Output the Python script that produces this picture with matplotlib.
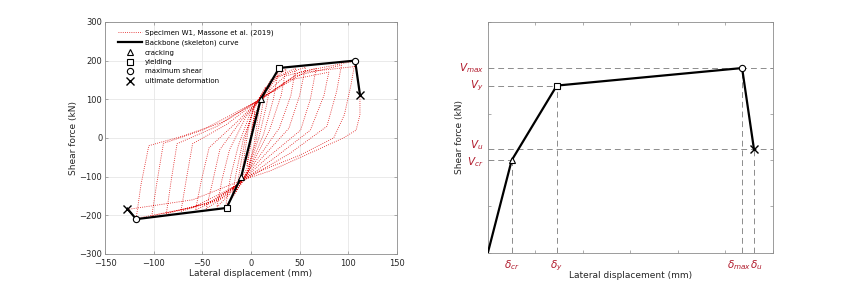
import matplotlib
matplotlib.use('Agg')
import matplotlib.pyplot as plt
import matplotlib.transforms as mtrans
from matplotlib.lines import Line2D

plt.rcParams['font.family'] = ['DejaVu Sans']
plt.rcParams['mathtext.fontset'] = 'dejavusans'

# hysteresis loops of specimen W1
hyst_disp = [0, 4, 2, -1, -4, -2, 1,
             10, 7, 3, -2, -10, -7, -3, 2,
             15, 11, 5, -3, -15, -11, -5, 3,
             21, 16, 8, -4, -20, -15, -8, 5,
             28, 23, 13, -5, -26, -21, -13, 0, 8,
             22, 36, 31, 19, 0, -8, -22, -35, -30, -22, -5, 8,
             25, 46, 41, 29, 5, -8, -26, -46, -40, -32, -10, 8,
             28, 56, 50, 39, 10, -8, -30, -57, -51, -43, -15, 9,
             35, 67, 61, 51, 15, -8, -35, -72, -66, -60, -25, 9,
             40, 80, 75, 61, 25, -8, -40, -87, -82, -76, -35, 9,
             45, 93, 88, 78, 40, -6, -45, -102, -97, -90, -50, 10,
             50, 107, 103, 96, 85, 50, 0, -20, -60, -118, -113, -105, -70, -30, 10,
             55, 108, 112, 112, 108, 95, 60, 20, -10, -60, -127]
hyst_force = [0, 70, 25, -30, -72, -25, 30,
              105, 50, -20, -70, -105, -50, 20, 70,
              132, 70, -10, -82, -136, -75, 10, 82,
              152, 85, 0, -92, -158, -88, -5, 90,
              172, 100, 10, -100, -177, -100, -20, 70, 96,
              150, 178, 110, 20, -75, -105, -145, -179, -110, -30, 55, 98,
              155, 181, 110, 25, -60, -106, -150, -183, -120, -30, 45, 99,
              158, 183, 110, 25, -55, -108, -155, -186, -110, -25, 40, 100,
              160, 180, 100, 20, -55, -108, -160, -190, -100, -15, 35, 100,
              150, 170, 110, 20, -50, -110, -165, -196, -110, -15, 30, 100,
              160, 188, 120, 30, -40, -108, -170, -202, -120, -14, 20, 100,
              170, 199, 140, 60, 0, -45, -95, -130, -180, -208, -120, -20, 5, 40, 100,
              170, 185, 112, 60, 20, 0, -40, -85, -110, -160, -185]

# backbone points
bb_disp = [-127, -118, -25, -10, 10, 29, 107, 112]
bb_force = [-183, -210, -181, -100, 100, 181, 200, 112]
crack_d, crack_f = [-10, 10], [-100, 100]
yield_d, yield_f = [-25, 29], [-181, 181]
max_d, max_f = [-118, 107], [-210, 200]
ult_d, ult_f = [-127, 112], [-183, 112]

# idealised positive branch
pos_disp = [0, 10, 29, 107, 112]
pos_force = [0, 100, 181, 200, 112]
d_labels = [r'$\delta_{cr}$', r'$\delta_y$', r'$\delta_{max}$', r'$\delta_u$']
v_labels = [r'$V_{cr}$', r'$V_y$', r'$V_{max}$', r'$V_u$']

grey = '#8c8c8c'
txt = '#262626'
dred = '#b0182a'
mk = dict(markerfacecolor='white', markeredgecolor='black', linestyle='none',
          markersize=4.5, markeredgewidth=0.8)
mk_sq = {**mk, 'markersize': 3.8}
mk_x = dict(marker='x', markeredgecolor='black', linestyle='none',
            markersize=5.5, markeredgewidth=1.0)

fig = plt.figure(figsize=(8.56, 2.85), dpi=100)
ax1 = fig.add_axes([0.1227, 0.109, 0.341, 0.814])
ax2 = fig.add_axes([0.570, 0.114, 0.333, 0.809])

for ax in (ax1, ax2):
    for s in ax.spines.values():
        s.set_color(grey)
        s.set_linewidth(0.6)
    ax.tick_params(direction='in', top=True, right=True, length=2.5, width=0.5,
                   color=grey, labelsize=6, labelcolor=txt, pad=2)
ax1.tick_params(axis='x', pad=3.5)

# ---- left: test data
ax1.plot(hyst_disp, hyst_force, color='#e01010', lw=0.6, ls=(0, (1, 1.6)), zorder=2)
ax1.plot(bb_disp, bb_force, color='black', lw=1.6, zorder=3)
ax1.plot(crack_d, crack_f, marker='^', zorder=4, **mk)
ax1.plot(yield_d, yield_f, marker='s', zorder=4, **mk_sq)
ax1.plot(max_d, max_f, marker='o', zorder=4, **mk)
ax1.plot(ult_d, ult_f, zorder=4, **mk_x)
ax1.set_xlim(-150, 150)
ax1.set_ylim(-300, 300)
ax1.set_xticks(range(-150, 151, 50))
ax1.set_yticks(range(-300, 301, 100))
ax1.grid(True, color='#e6e6e6', lw=0.6)
ax1.set_axisbelow(True)
ax1.set_xlabel('Lateral displacement (mm)', fontsize=6.5, color=txt, labelpad=1)
ax1.set_ylabel('Shear force (kN)', fontsize=6.5, color=txt, labelpad=1)

handles = [
    Line2D([], [], color='#e01010', lw=0.6, ls=(0, (1, 1.6))),
    Line2D([], [], color='black', lw=1.6),
    Line2D([], [], marker='^', **mk),
    Line2D([], [], marker='s', **mk_sq),
    Line2D([], [], marker='o', **mk),
    Line2D([], [], **mk_x),
]
names = ['Specimen W1, Massone et al. (2019)', 'Backbone (skeleton) curve',
         'cracking', 'yielding', 'maximum shear', 'ultimate deformation']
ax1.legend(handles, names, loc='upper left', bbox_to_anchor=(0.03, 0.985),
           frameon=False, fontsize=5, handlelength=3.4, handletextpad=0.5,
           labelspacing=0.5, borderaxespad=0.2)

# ---- right: idealised backbone
dash = (0, (6, 4))
for d, v in zip(pos_disp[1:3], pos_force[1:3]):
    ax2.plot([0, d], [v, v], color=grey, lw=0.7, ls=dash, zorder=1)
for v in (pos_force[3], pos_force[4]):
    ax2.plot([0, 120], [v, v], color=grey, lw=0.7, ls=dash, zorder=1)
for d, v in zip(pos_disp[1:], pos_force[1:]):
    ax2.plot([d, d], [0, v], color=grey, lw=0.7, ls=dash, zorder=1)
ax2.plot(pos_disp, pos_force, color='black', lw=1.6, zorder=3)
ax2.plot(pos_disp[1], pos_force[1], marker='^', zorder=4, **mk)
ax2.plot(pos_disp[2], pos_force[2], marker='s', zorder=4, **mk_sq)
ax2.plot(pos_disp[3], pos_force[3], marker='o', zorder=4, **mk)
ax2.plot(pos_disp[4], pos_force[4], zorder=4, **mk_x)
ax2.set_xlim(0, 120)
ax2.set_ylim(0, 250)
ax2.set_xticks(range(0, 121, 20))
ax2.set_yticks(range(0, 251, 50))
ax2.set_xticklabels([])
ax2.set_yticklabels([])

# red symbolic tick labels
tx = mtrans.blended_transform_factory(ax2.transData, ax2.transAxes)
ty = mtrans.blended_transform_factory(ax2.transAxes, ax2.transData)
x_shift = [0, 0, -1.2, 1.0]
for d, lab, s in zip(pos_disp[1:], d_labels, x_shift):
    ax2.text(d + s, -0.025, lab, transform=tx, ha='center', va='top',
             fontsize=7.5, color=dred)
y_shift = [-2, 0, 0, 4]
for v, lab, s in zip(pos_force[1:], v_labels, y_shift):
    ax2.text(-0.015, v + s, lab, transform=ty, ha='right', va='center',
             fontsize=7.5, color=dred)
ax2.set_xlabel('Lateral displacement (mm)', fontsize=6.5, color=txt, labelpad=11)
ax2.set_ylabel('Shear force (kN)', fontsize=6.5, color=txt, labelpad=15)

fig.savefig('out.png', dpi=100)
